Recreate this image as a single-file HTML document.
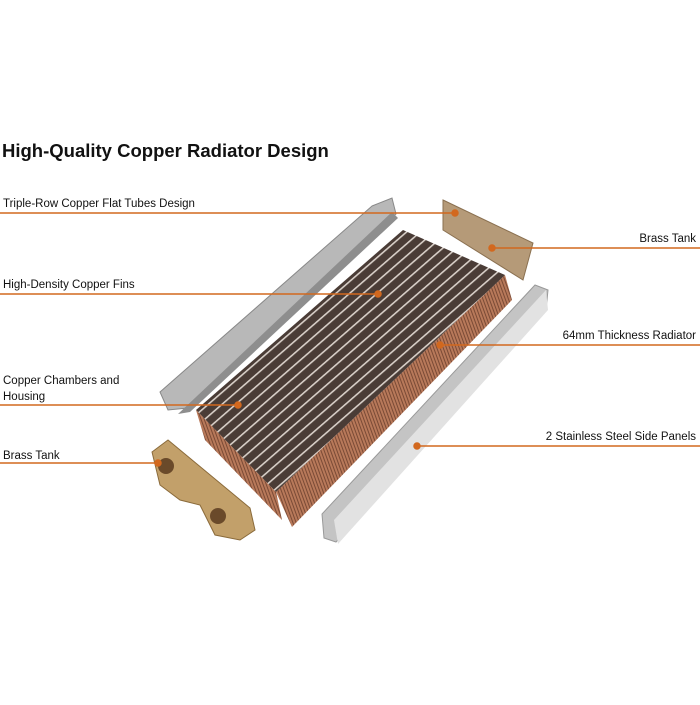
<!DOCTYPE html><html><head><style>
body{margin:0;background:#fff;width:700px;height:700px;overflow:hidden;font-family:"Liberation Sans",sans-serif}
</style></head><body>
<svg width="700" height="700" xmlns="http://www.w3.org/2000/svg" font-family="Liberation Sans, sans-serif">
<defs>
<pattern id="fins" width="9" height="9" patternUnits="userSpaceOnUse" patternTransform="rotate(49)">
<rect width="9" height="9" fill="#4a3c36"/><rect width="1.6" height="9" fill="#d8cfc8"/></pattern>
<pattern id="cu" width="3" height="3" patternUnits="userSpaceOnUse" patternTransform="rotate(-20)">
<rect width="3" height="3" fill="#b8795a"/><rect width="1" height="3" fill="#7a4a35"/></pattern>
</defs>
<text x="2" y="157" font-size="18.5" font-weight="bold" fill="#111">High-Quality Copper Radiator Design</text>
<!-- left bracket -->
<polygon points="372,206 392,198 396,214 188,408 168,410 160,392" fill="#b8b8b8" stroke="#888" stroke-width="1"/>
<polygon points="392,212 398,218 190,412 178,414" fill="#8e8e8e"/>
<!-- fin block -->
<polygon points="505,275 512,300 292,527 276,492" fill="url(#cu)"/>
<polygon points="403,230 505,275 276,492 196,410" fill="url(#fins)"/>
<polygon points="196,410 276,492 282,520 205,440" fill="url(#cu)"/>
<!-- right tank -->
<polygon points="443,200 533,243 523,280 443,230" fill="#b59a78" stroke="#8a7050"/>
<!-- right side panel -->
<polygon points="535,285 548,290 546,310 336,542 324,538 322,514" fill="#c4c4c4" stroke="#999"/>
<polygon points="546,290 548,310 338,544 334,520" fill="#e2e2e2"/>
<!-- left tank -->
<path d="M152,452 L168,440 L250,508 L255,530 L240,540 L215,535 L200,505 L180,500 L160,485 Z" fill="#c2a06a" stroke="#8a6a3a"/>
<circle cx="166" cy="466" r="8" fill="#6a4a2a"/><circle cx="218" cy="516" r="8" fill="#6a4a2a"/>
<g stroke="#d2681e" stroke-width="1.5" fill="#d2681e">
<line x1="0" y1="213" x2="455" y2="213"/><circle cx="455" cy="213" r="3"/>
<line x1="0" y1="294" x2="378" y2="294"/><circle cx="378" cy="294" r="3"/>
<line x1="0" y1="405" x2="238" y2="405"/><circle cx="238" cy="405" r="3"/>
<line x1="0" y1="463" x2="158" y2="463"/><circle cx="158" cy="463" r="3"/>
<line x1="492" y1="248" x2="700" y2="248"/><circle cx="492" cy="248" r="3"/>
<line x1="440" y1="345" x2="700" y2="345"/><circle cx="440" cy="345" r="3"/>
<line x1="417" y1="446" x2="700" y2="446"/><circle cx="417" cy="446" r="3"/>
</g>
<g font-size="11.5" fill="#111">
<text x="3" y="207">Triple-Row Copper Flat Tubes Design</text>
<text x="3" y="288">High-Density Copper Fins</text>
<text x="3" y="384">Copper Chambers and</text>
<text x="3" y="400">Housing</text>
<text x="3" y="459">Brass Tank</text>
<text x="696" y="242" text-anchor="end">Brass Tank</text>
<text x="696" y="339" text-anchor="end">64mm Thickness Radiator</text>
<text x="696" y="440" text-anchor="end">2 Stainless Steel Side Panels</text>
</g>
</svg>
</body></html>
